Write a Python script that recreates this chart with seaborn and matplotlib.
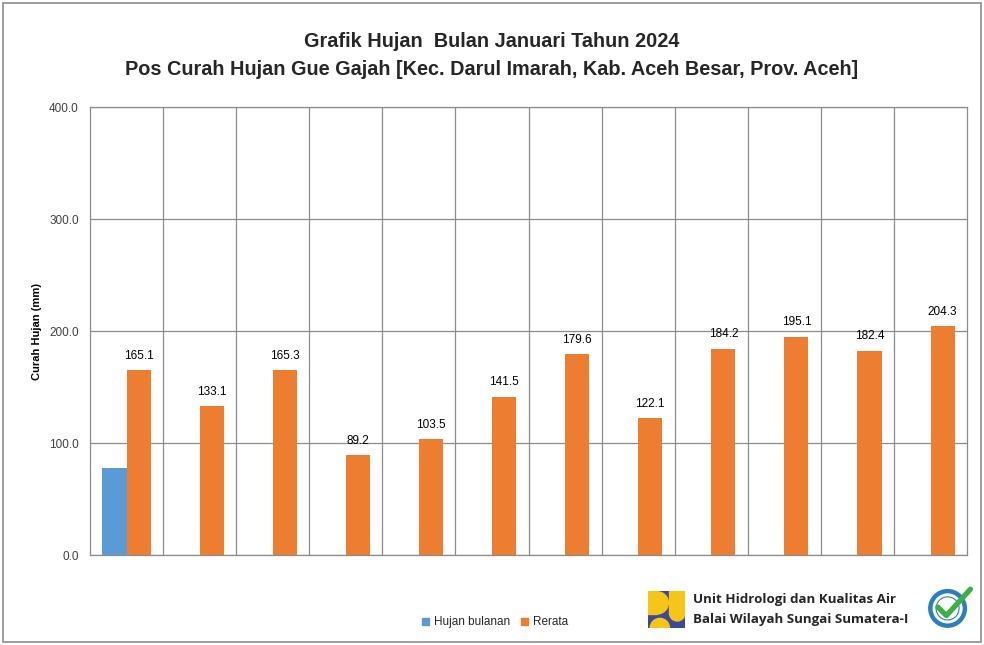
import matplotlib
matplotlib.use("Agg")
import matplotlib.pyplot as plt
import seaborn as sns
import pandas as pd
import numpy as np
from matplotlib.patches import Rectangle, Circle, Wedge
from matplotlib.lines import Line2D

months = ["Jan", "Feb", "Mar", "Apr", "Mei", "Jun", "Jul", "Agu", "Sep", "Okt", "Nov", "Des"]
hujan_bulanan = [77.7, np.nan, np.nan, np.nan, np.nan, np.nan, np.nan, np.nan, np.nan, np.nan, np.nan, np.nan]
rerata = [165.1, 133.1, 165.3, 89.2, 103.5, 141.5, 179.6, 122.1, 184.2, 195.1, 182.4, 204.3]
series_names = ["Hujan bulanan", "Rerata"]
colors = ["#5B9BD5", "#ED7D31"]
yticks = [0, 100, 200, 300, 400]

df = pd.DataFrame({
    "Bulan": months * 2,
    "Seri": [series_names[0]] * 12 + [series_names[1]] * 12,
    "Nilai": hujan_bulanan + rerata,
})

sns.set_theme(style="white")
plt.rcParams["font.family"] = ["Liberation Sans", "DejaVu Sans"]

fig = plt.figure(figsize=(9.84, 6.45), dpi=100)
ax = fig.add_axes([0.0915, 0.1395, 0.8913, 0.6946])

sns.barplot(data=df, x="Bulan", y="Nilai", hue="Seri", hue_order=series_names,
            palette=colors, width=0.66, ax=ax, legend=False, saturation=1, errorbar=None,
            linewidth=0)

ax.set_ylim(0, 400)
ax.set_xlim(-0.5, 11.5)
ax.set_yticks(yticks)
ax.set_yticklabels([f"{v:.1f}" for v in yticks], fontsize=8.5, color="#404040")
ax.set_xticks(range(12))
ax.set_xticklabels([""] * 12)
ax.tick_params(axis="y", length=0, pad=8)
ax.tick_params(axis="x", length=0)
ax.set_xlabel("")
ax.set_ylabel("Curah Hujan (mm)", fontsize=8, fontweight="bold", labelpad=5, color="#000000")

ax.yaxis.grid(True, color="#8C8C8C", linewidth=0.9)
for b in np.arange(0.5, 11.5, 1.0):
    ax.axvline(b, color="#8C8C8C", linewidth=0.9, zorder=0)
ax.set_axisbelow(True)
for s in ax.spines.values():
    s.set_color("#8C8C8C")
    s.set_linewidth(0.9)

# value labels on Rerata bars
for i, v in enumerate(rerata):
    ax.annotate(f"{v:.1f}", xy=(i + 0.165, v), xytext=(0, 6), textcoords="offset points",
                ha="center", va="bottom", fontsize=8.5, color="#000000")

# titles
fig.text(0.5, 0.935, "Grafik Hujan  Bulan Januari Tahun 2024", ha="center", va="center",
         fontsize=14.3, fontweight="bold")
fig.text(0.5, 0.892, "Pos Curah Hujan Gue Gajah [Kec. Darul Imarah, Kab. Aceh Besar, Prov. Aceh]",
         ha="center", va="center", fontsize=14.3, fontweight="bold")

# legend
handles = [Rectangle((0, 0), 1, 1, color=c) for c in colors]
fig.legend(handles, series_names, loc="center", bbox_to_anchor=(0.503, 0.035), ncol=2,
           frameon=False, fontsize=8.5, handlelength=0.6, handleheight=0.6, handletextpad=0.4,
           columnspacing=0.9)

# outer border
fig.patches.append(Rectangle((0.003, 0.005), 0.994, 0.99, transform=fig.transFigure,
                             fill=False, edgecolor="#8C8C8C", linewidth=1.2))

# logo (decorative)
lax = fig.add_axes([648 / 984, 1 - 628 / 645, 37 / 984, 37 / 645])
lax.set_xlim(0, 1); lax.set_ylim(0, 1); lax.axis("off")
yellow, navy = "#F5C518", "#3A4A9A"
lax.add_patch(Rectangle((0, 0), 1, 1, color=navy))
lax.add_patch(Rectangle((0.0, 0.5), 0.25, 0.5, color=yellow))
lax.add_patch(Wedge((0.25, 0.68), 0.3, -90, 90, color=yellow))
lax.add_patch(Rectangle((0.0, 0.38), 0.25, 0.3, color=yellow))
lax.add_patch(Rectangle((0.58, 0.4), 0.42, 0.6, color=yellow))
lax.add_patch(Wedge((0.79, 0.4), 0.21, 180, 360, color=yellow))
lax.add_patch(Wedge((0.32, 0.0), 0.26, 0, 180, color=yellow))

fig.text(693 / 984, 1 - 600 / 645, "Unit Hidrologi dan Kualitas Air", ha="left", va="center",
         fontsize=9.6, fontweight="bold", family=["Open Sans", "DejaVu Sans"])
fig.text(693 / 984, 1 - 620 / 645, "Balai Wilayah Sungai Sumatera-I", ha="left", va="center",
         fontsize=9.6, fontweight="bold", family=["Open Sans", "DejaVu Sans"])

# certified badge (decorative)
bax = fig.add_axes([926 / 984, 1 - 630 / 645, 48 / 984, 48 / 645])
bax.set_xlim(-1, 1); bax.set_ylim(-1, 1); bax.set_aspect("equal"); bax.axis("off")
bax.add_patch(Circle((-0.1, -0.1), 0.72, fill=False, edgecolor="#2A7FC1", linewidth=3.2))
bax.add_patch(Circle((-0.1, -0.1), 0.48, fill=False, edgecolor="#2A7FC1", linewidth=0.8))
bax.add_line(Line2D([-0.5, -0.15, 0.85], [-0.05, -0.4, 0.7], color="#3CB043", linewidth=3.8,
                    solid_capstyle="round"))

fig.savefig("out.png", dpi=100)
